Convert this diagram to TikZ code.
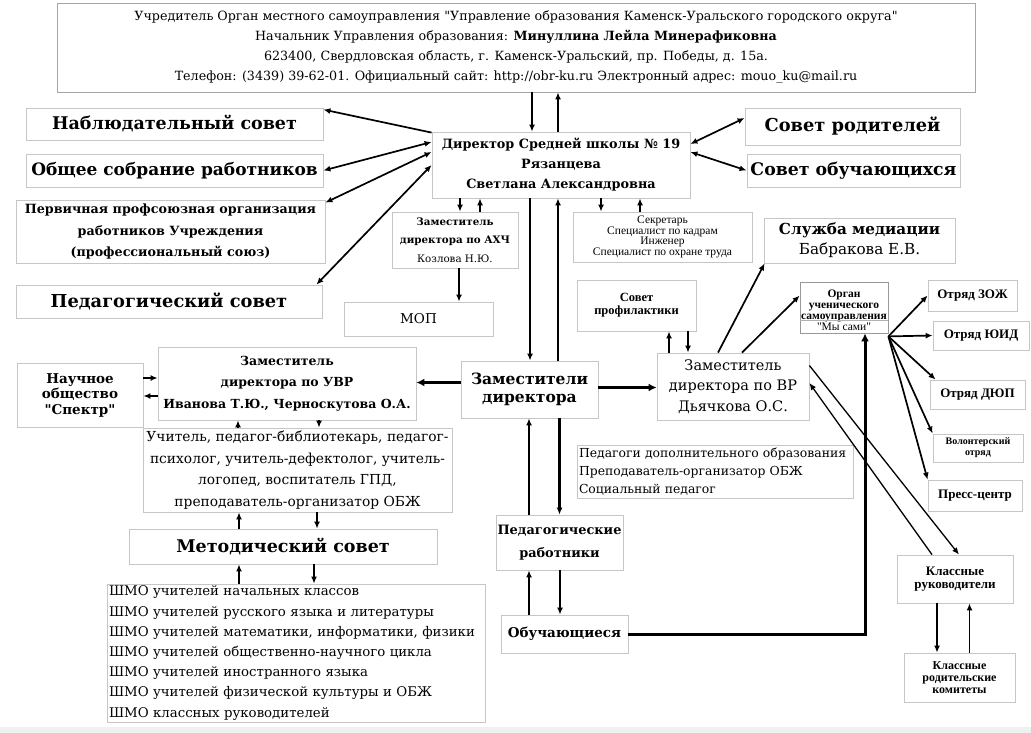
\documentclass[tikz,border=0pt]{standalone}
\usepackage{fontspec}
\setmainfont{DejaVu Serif}[Ligatures=TeXOff]
\newfontfamily\tnr{Liberation Serif}[Ligatures=TeXOff]
\usetikzlibrary{arrows.meta}
\newcommand{\fsz}[2]{\fontsize{#1}{#2}\selectfont}
\tikzset{
  box/.style={draw=gray!45, line width=0.8pt, fill=white, align=center, inner sep=1pt},
  arr/.style={-{Latex[length=7pt,width=6pt]}, line width=1.7pt},
  arrr/.style={{Latex[length=7pt,width=6pt]}-{Latex[length=7pt,width=6pt]}, line width=1.7pt},
  big/.style={-{Latex[length=8pt,width=8pt]}, line width=3pt},
}
\begin{document}
\begin{tikzpicture}[x=1pt,y=-1pt]
\useasboundingbox (0,0) rectangle (1031,733);
\fill[gray!12] (0,727) rectangle (1031,733);
% top and director
\node[box, draw=gray!70, minimum width=918pt, minimum height=89pt, font=\fsz{12.7}{20}] (top) at (516,47.5) {%
Учредитель Орган местного самоуправления "Управление образования Каменск-Уральского городского округа"\\
Начальник Управления образования: \textbf{Минуллина Лейла Минерафиковна}\\
623400, Свердловская область, г. Каменск-Уральский, пр. Победы, д. 15а.\\
Телефон: (3439) 39-62-01. Официальный сайт: http://obr-ku.ru Электронный адрес: mouo\_ku@mail.ru};
\node[box, minimum width=258pt, minimum height=66pt, font=\fsz{12.8}{20}\bfseries] (dir) at (561,165) {Директор Средней школы № 19\\ Рязанцева\\ Светлана Александровна};
% left councils
\node[box, minimum width=297pt, minimum height=32pt, font=\fsz{17.5}{20}\bfseries] (nabl) at (174.5,124) {Наблюдательный совет};
\node[box, minimum width=297pt, minimum height=33pt, font=\fsz{17}{20}\bfseries] (obsch) at (174.5,170.5) {Общее собрание работников};
\node[box, minimum width=309pt, minimum height=63pt, font=\fsz{12.7}{21.5}\bfseries] (perv) at (170.5,231.5) {Первичная профсоюзная организация\\ работников Учреждения\\ (профессиональный союз)};
\node[box, minimum width=306pt, minimum height=33pt, font=\fsz{17.8}{20}\bfseries] (ped) at (169,301.5) {Педагогический совет};
% right councils
\node[box, minimum width=215pt, minimum height=37pt, font=\fsz{17.8}{20}\bfseries] (srod) at (852.5,126.5) {Совет родителей};
\node[box, minimum width=213pt, minimum height=33pt, font=\fsz{17.3}{20}\bfseries] (sobuch) at (853.5,170.5) {Совет обучающихся};
% under director
\node[box, minimum width=126pt, minimum height=56pt, font=\fsz{10.3}{18.5}] (axh) at (455,240) {\textbf{Заместитель}\\ \textbf{директора по АХЧ}\\ Козлова Н.Ю.};
\node[box, minimum width=149pt, minimum height=34pt, font=\fsz{13.5}{16}] (mop) at (418.5,319) {МОП};
\node[box, minimum width=179pt, minimum height=50pt, font=\tnr\fsz{11.5}{10.7}] (sekr) at (662.5,237) {Секретарь\\ Специалист по кадрам\\ Инженер\\ Специалист по охране труда};
\node[box, minimum width=191pt, minimum height=45pt, font=\fsz{15.2}{20}] (sluzh) at (859.5,240.5) {\textbf{Служба медиации}\\ Бабракова Е.В.};
\node[box, minimum width=119pt, minimum height=51pt, font=\tnr\fsz{12.5}{13}\bfseries] (sprof) at (636.5,305.5) {Совет\\ профилактики};
\node[box, draw=gray!80, minimum width=88pt, minimum height=51pt] (organ) at (844,307.5) {};
\node[align=center, inner sep=0pt, font=\tnr\fsz{11.5}{11}] (organtxt) at ([yshift=-3pt]organ.center) {\textbf{Орган}\\ \textbf{ученического}\\ \textbf{самоуправления}\\ "Мы сами"};
\draw[gray!60] ([yshift=-13pt]organ.west) -- ([yshift=-13pt]organ.east);
% squads
\node[box, minimum width=89pt, minimum height=31pt, font=\tnr\fsz{13}{14}\bfseries] (zozh) at (972.5,295.5) {Отряд ЗОЖ};
\node[box, minimum width=96pt, minimum height=29pt, font=\tnr\fsz{13}{14}\bfseries] (yuid) at (981,335.5) {Отряд ЮИД};
\node[box, minimum width=95pt, minimum height=29pt, font=\tnr\fsz{13}{14}\bfseries] (dyup) at (977.5,394.5) {Отряд ДЮП};
\node[box, minimum width=90pt, minimum height=28pt, font=\tnr\fsz{10}{11}\bfseries] (volont) at (978,448) {Волонтерский\\ отряд};
\node[box, minimum width=94pt, minimum height=31pt, font=\tnr\fsz{13}{14}\bfseries] (press) at (975,495.5) {Пресс-центр};
% deputies
\node[box, minimum width=126pt, minimum height=64pt, font=\fsz{13.5}{15.5}\bfseries] (nauch) at (80,395) {Научное\\ общество\\ "Спектр"};
\node[box, minimum width=258pt, minimum height=73pt, font=\fsz{12.5}{21.5}\bfseries] (uvr) at (287,383.5) {Заместитель\\ директора по УВР\\ Иванова Т.Ю., Черноскутова О.А.};
\node[box, minimum width=137pt, minimum height=57pt, font=\fsz{15.5}{18.5}\bfseries] (zam) at (529.5,389.5) {Заместители\\ директора};
\node[box, minimum width=152pt, minimum height=67pt, font=\fsz{14.5}{20.5}] (vr) at (733,386.5) {Заместитель\\ директора по ВР\\ Дьячкова О.С.};
\node[box, minimum width=309pt, minimum height=84pt, font=\fsz{13.8}{21.5}] (uchit) at (297.5,470) {Учитель, педагог-библиотекарь, педагог-\\ психолог, учитель-дефектолог, учитель-\\ логопед, воспитатель ГПД,\\ преподаватель-организатор ОБЖ};
\node[box, text width=273pt, align=left, inner sep=1.5pt, minimum height=53pt, font=\fsz{12.4}{18}] (pdo) at (715.5,471.5) {Педагоги дополнительного образования\\ Преподаватель-организатор ОБЖ\\ Социальный педагог};
\node[box, minimum width=308pt, minimum height=35pt, font=\fsz{17.5}{20}\bfseries] (metod) at (283,546.5) {Методический совет};
\node[box, text width=374pt, align=left, inner sep=2pt, minimum height=138pt, font=\fsz{13.3}{20.2}] (shmo) at (296,653) {ШМО учителей начальных классов\\ ШМО учителей русского языка и литературы\\ ШМО учителей математики, информатики, физики\\ ШМО учителей общественно-научного цикла\\ ШМО учителей иностранного языка\\ ШМО учителей физической культуры и ОБЖ\\ ШМО классных руководителей};
\node[box, minimum width=127pt, minimum height=55pt, font=\fsz{12.9}{23}\bfseries] (pedr) at (559.5,542.5) {Педагогические\\ работники};
\node[box, minimum width=127pt, minimum height=38pt, font=\fsz{13.5}{18}\bfseries] (obuch) at (564.5,634) {Обучающиеся};
\node[box, minimum width=116pt, minimum height=48pt, font=\tnr\fsz{13}{12.5}\bfseries] (klruk) at (955,579) {Классные\\ руководители};
\node[box, minimum width=111pt, minimum height=49pt, font=\tnr\fsz{12}{12}\bfseries] (klrod) at (959.5,677.5) {Классные\\ родительские\\ комитеты};
% connectors: top and councils
\draw[arr] ([xshift=-29pt]dir.north |- top.south) -- ([xshift=-29pt]dir.north);
\draw[arr] ([xshift=-3pt]dir.north) -- ([xshift=-3pt]dir.north |- top.south);
\draw[arr] ([yshift=-1pt]dir.north west) -- ([yshift=-2pt]nabl.north east);
\draw[arrr] (obsch.east) -- ([yshift=23pt]dir.west);
\draw[arrr] ([yshift=-3pt]perv.north east) -- ([yshift=13pt]dir.west);
\draw[arrr] ([xshift=-6pt]ped.north east) -- (dir.west);
\draw[arrr] ([yshift=21pt]dir.east) -- ([yshift=8.5pt]srod.west);
\draw[arrr] ([yshift=13pt]dir.east) -- (sobuch.west);
% under director
\draw[arr] ([xshift=5pt]axh.north |- dir.south) -- ([xshift=5pt]axh.north);
\draw[arr] ([xshift=25pt]axh.north) -- ([xshift=25pt]axh.north |- dir.south);
\draw[arr] ([xshift=4pt]axh.south) -- ([xshift=4pt]axh.south |- mop.north);
\draw[arr] ([xshift=-61.5pt]sekr.north |- dir.south) -- ([xshift=-61.5pt]sekr.north);
\draw[arr] ([xshift=-22.5pt]sekr.north) -- ([xshift=-22.5pt]sekr.north |- dir.south);
\draw[arr, line width=2.4pt] ([xshift=0.5pt]zam.north |- dir.south) -- ([xshift=0.5pt]zam.north);
\draw[arr, line width=2.4pt] ([xshift=28.5pt]zam.north) -- ([xshift=28.5pt]zam.north |- dir.south);
% deputies
\draw[big] ([yshift=7pt]zam.west) -- ([yshift=7pt]zam.west -| uvr.east);
\draw[big] ([yshift=2pt]zam.east) -- ([yshift=2pt]zam.east -| vr.west);
\draw[arr] ([yshift=17pt]nauch.east) -- ([yshift=17pt]nauch.east -| uvr.west);
\draw[arr] ([yshift=-1pt]nauch.east -| uvr.west) -- ([yshift=-1pt]nauch.east);
\draw[arr] ([xshift=-49pt]uvr.south |- uchit.north) -- ([xshift=-49pt]uvr.south);
\draw[arr] ([xshift=32pt]uvr.south) -- ([xshift=32pt]uvr.south |- uchit.north);
\draw[arr] ([xshift=-44pt]metod.north) -- ([xshift=-44pt]metod.north |- uchit.south);
\draw[arr] ([xshift=34pt]metod.north |- uchit.south) -- ([xshift=34pt]metod.north);
\draw[arr] ([xshift=-44pt]metod.south |- shmo.north) -- ([xshift=-44pt]metod.south);
\draw[arr] ([xshift=31pt]metod.south) -- ([xshift=31pt]metod.south |- shmo.north);
\draw[arr, line width=2.4pt] ([xshift=-30.5pt]pedr.north) -- ([xshift=-30.5pt]pedr.north |- zam.south);
\draw[arr, line width=2.4pt] (pedr.north |- zam.south) -- (pedr.north);
\draw[arr, line width=2.4pt] ([xshift=-35.5pt]obuch.north) -- ([xshift=-35.5pt]obuch.north |- pedr.south);
\draw[arr, line width=2.4pt] ([xshift=-4.5pt]obuch.north |- pedr.south) -- ([xshift=-4.5pt]obuch.north);
\draw[big] (obuch.east) -| ([xshift=21pt]organ.south);
% vr side
\draw[arr] ([xshift=32.5pt]sprof.south |- vr.north) -- ([xshift=32.5pt]sprof.south);
\draw[arr] ([xshift=51.5pt]sprof.south) -- ([xshift=51.5pt]sprof.south |- vr.north);
\draw[arr] ([xshift=-15pt]vr.north) -- ([xshift=1pt]sluzh.south west);
\draw[arr] ([xshift=9pt]vr.north) -- ([yshift=-14pt]organ.north west);
\draw[arr] ([yshift=-3pt]organ.south east) -- (zozh.west);
\draw[arr] ([yshift=-3pt]organ.south east) -- (yuid.west);
\draw[arr] ([yshift=-3pt]organ.south east) -- ([xshift=6pt]dyup.north west);
\draw[arr] ([yshift=-3pt]organ.south east) -- (volont.north west);
\draw[arr] ([yshift=-3pt]organ.south east) -- (press.north west);
\draw[arr, line width=1.3pt] ([xshift=-23pt]klruk.north) -- ([yshift=3.5pt]vr.east);
\draw[arr, line width=1.3pt] ([yshift=21pt]vr.east) -- ([xshift=4pt]klruk.north);
\draw[arr] ([xshift=-18pt]klruk.south) -- ([xshift=-18pt]klruk.south |- klrod.north);
\draw[arr] ([xshift=10pt]klrod.north) -- ([xshift=10pt]klrod.north |- klruk.south);
\end{tikzpicture}
\end{document}
